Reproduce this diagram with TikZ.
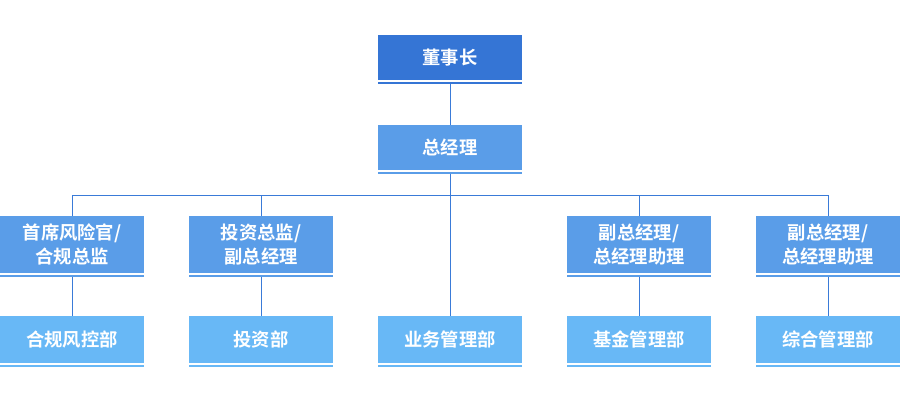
\documentclass[tikz,border=0pt]{standalone}
\usepackage{fontspec}
\newfontfamily\cjk{Noto Sans CJK SC}[BoldFont={Noto Sans CJK SC Bold}]
\definecolor{cTop}{HTML}{3575D5}
\definecolor{cMid}{HTML}{5A9DE8}
\definecolor{cLow}{HTML}{68B8F6}
\definecolor{cLine}{HTML}{3A7BD8}
\begin{document}
\begin{tikzpicture}[x=1pt,y=-1pt,
  box/.style={minimum width=144pt,minimum height=45pt,inner sep=0pt,anchor=north,text=white,
    font=\cjk\bfseries\fontsize{18.3}{24}\selectfont,align=center},
  conn/.style={draw=cLine,line width=1pt}]
\useasboundingbox (0,0) rectangle (900,400);
\fill[white] (0,0) rectangle (900,400);
% boxes
\node[box,fill=cTop] (ceo) at (450,35) {董事长};
\node[box,fill=cMid] (gm) at (450,125) {总经理};
\node[box,fill=cMid,minimum height=57pt] (r1) at (72,216) {首席风险官/\\合规总监};
\node[box,fill=cMid,minimum height=57pt] (r2) at (261,216) {投资总监/\\副总经理};
\node[box,fill=cMid,minimum height=57pt] (r4) at (639,216) {副总经理/\\总经理助理};
\node[box,fill=cMid,minimum height=57pt] (r5) at (828,216) {副总经理/\\总经理助理};
\node[box,fill=cLow,minimum height=47pt] (b1) at (72,316) {合规风控部};
\node[box,fill=cLow,minimum height=47pt] (b2) at (261,316) {投资部};
\node[box,fill=cLow,minimum height=47pt] (b3) at (450,316) {业务管理部};
\node[box,fill=cLow,minimum height=47pt] (b4) at (639,316) {基金管理部};
\node[box,fill=cLow,minimum height=47pt] (b5) at (828,316) {综合管理部};
% underlines
\foreach \n/\c in {ceo/cTop,gm/cMid,r1/cMid,r2/cMid,r4/cMid,r5/cMid,b1/cLow,b2/cLow,b3/cLow,b4/cLow,b5/cLow}{
  \fill[\c] ([yshift=-1.5pt]\n.south west) rectangle ([yshift=-3.5pt]\n.south east);
}
% connectors
\coordinate (hl) at (72,195.5);
\coordinate (hr) at (828,195.5);
\draw[conn] ([yshift=-3.5pt]ceo.south) -- (gm.north);
\draw[conn] ([yshift=-3.5pt]gm.south) -- (b3.north);
\draw[conn] (r1.north) -- (hl) -- (hr) -- (r5.north);
\draw[conn] (r2.north) -- (r2.north |- hl);
\draw[conn] (r4.north) -- (r4.north |- hl);
\draw[conn] ([yshift=-3.5pt]r1.south) -- (b1.north);
\draw[conn] ([yshift=-3.5pt]r2.south) -- (b2.north);
\draw[conn] ([yshift=-3.5pt]r4.south) -- (b4.north);
\draw[conn] ([yshift=-3.5pt]r5.south) -- (b5.north);
\end{tikzpicture}
\end{document}
